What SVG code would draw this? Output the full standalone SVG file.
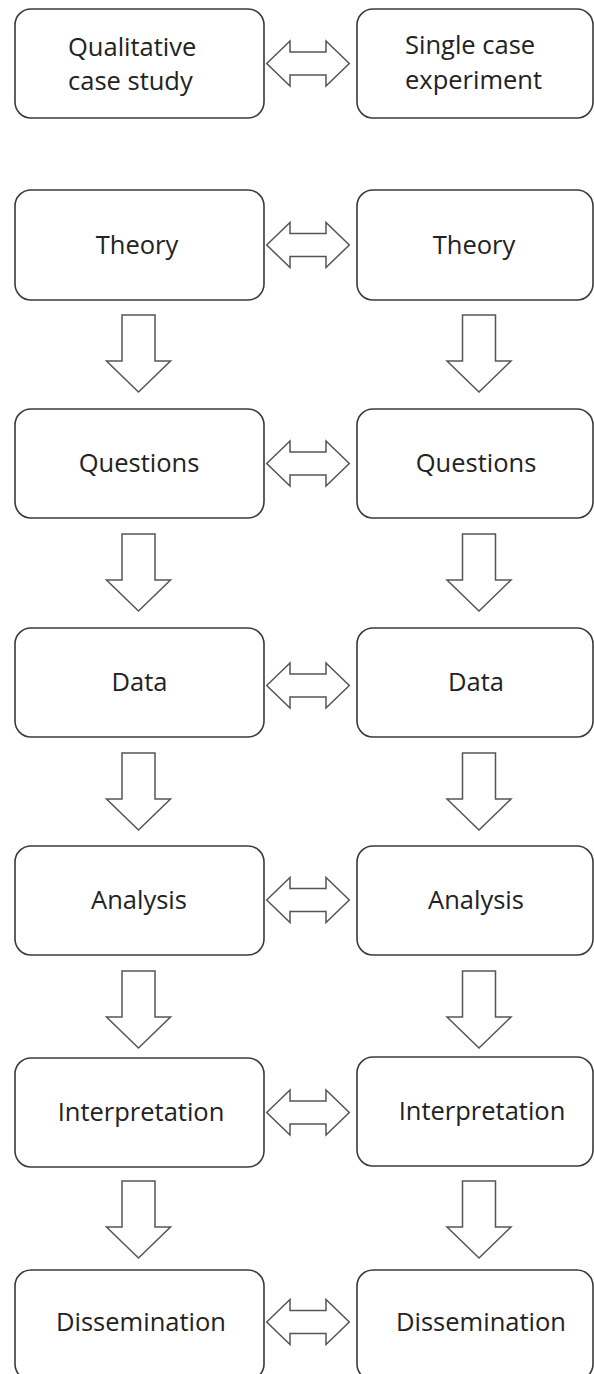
<svg xmlns="http://www.w3.org/2000/svg" width="594" height="1374" viewBox="0 0 594 1374">
<style>
.box{fill:#fff;stroke:#3a3a3a;stroke-width:1.6}
.arr{fill:#fff;stroke:#555;stroke-width:1.5;stroke-linejoin:miter}
.t{font-family:"Open Sans","Noto Sans",sans-serif;font-size:25.5px;fill:#222}
.m{text-anchor:middle}
</style>
<defs>
<path id="dbl" d="M-41.3,0 L-18,-22.5 L-18,-11.5 L18,-11.5 L18,-22.5 L41.3,0 L18,22.5 L18,11.5 L-18,11.5 L-18,22.5 Z"/>
<path id="down" d="M-16.5,0 L16.5,0 L16.5,46 L32,46 L0,77 L-32,46 L-16.5,46 Z"/>
</defs>
<rect width="594" height="1374" fill="#fff"/>
<g id="connectors">
<use href="#dbl" class="arr" x="308" y="63.5"/>
<use href="#dbl" class="arr" x="308" y="245"/>
<use href="#dbl" class="arr" x="308" y="463.5"/>
<use href="#dbl" class="arr" x="308" y="685.5"/>
<use href="#dbl" class="arr" x="308" y="900"/>
<use href="#dbl" class="arr" x="308" y="1112.5"/>
<use href="#dbl" class="arr" x="308" y="1322"/>
<use href="#down" class="arr" x="138.5" y="315"/>
<use href="#down" class="arr" x="479" y="315"/>
<use href="#down" class="arr" x="138.5" y="534"/>
<use href="#down" class="arr" x="479" y="534"/>
<use href="#down" class="arr" x="138.5" y="753"/>
<use href="#down" class="arr" x="479" y="753"/>
<use href="#down" class="arr" x="138.5" y="971"/>
<use href="#down" class="arr" x="479" y="971"/>
<use href="#down" class="arr" x="138.5" y="1181"/>
<use href="#down" class="arr" x="479" y="1181"/>
</g>
<g id="n-qual"><rect class="box" x="15" y="9" width="249" height="109" rx="16"/>
<text class="t" x="68" y="55.5">Qualitative</text><text class="t" x="68" y="90">case study</text></g>
<g id="n-single"><rect class="box" x="357" y="9" width="236" height="109" rx="16"/>
<text class="t" x="405" y="54">Single case</text><text class="t" x="405" y="88.5">experiment</text></g>
<g id="n-theory-l"><rect class="box" x="15" y="190" width="249" height="110" rx="16"/><text class="t m" x="137" y="253.5">Theory</text></g>
<g id="n-theory-r"><rect class="box" x="357" y="190" width="236" height="110" rx="16"/><text class="t m" x="474" y="253.5">Theory</text></g>
<g id="n-questions-l"><rect class="box" x="15" y="409" width="249" height="109" rx="16"/><text class="t m" x="139" y="472">Questions</text></g>
<g id="n-questions-r"><rect class="box" x="357" y="409" width="236" height="109" rx="16"/><text class="t m" x="476" y="472">Questions</text></g>
<g id="n-data-l"><rect class="box" x="15" y="628" width="249" height="109" rx="16"/><text class="t m" x="139.5" y="691">Data</text></g>
<g id="n-data-r"><rect class="box" x="357" y="628" width="236" height="109" rx="16"/><text class="t m" x="476" y="691">Data</text></g>
<g id="n-analysis-l"><rect class="box" x="15" y="846" width="249" height="109" rx="16"/><text class="t m" x="139" y="908.5">Analysis</text></g>
<g id="n-analysis-r"><rect class="box" x="357" y="846" width="236" height="109" rx="16"/><text class="t m" x="476" y="908.5">Analysis</text></g>
<g id="n-interp-l"><rect class="box" x="15" y="1058" width="249" height="109" rx="16"/><text class="t m" x="141" y="1121">Interpretation</text></g>
<g id="n-interp-r"><rect class="box" x="357" y="1057" width="236" height="109" rx="16"/><text class="t m" x="482" y="1120">Interpretation</text></g>
<g id="n-diss-l"><rect class="box" x="15" y="1270" width="249" height="110" rx="16"/><text class="t m" x="141" y="1331">Dissemination</text></g>
<g id="n-diss-r"><rect class="box" x="357" y="1270" width="236" height="110" rx="16"/><text class="t m" x="481" y="1331">Dissemination</text></g>
</svg>
